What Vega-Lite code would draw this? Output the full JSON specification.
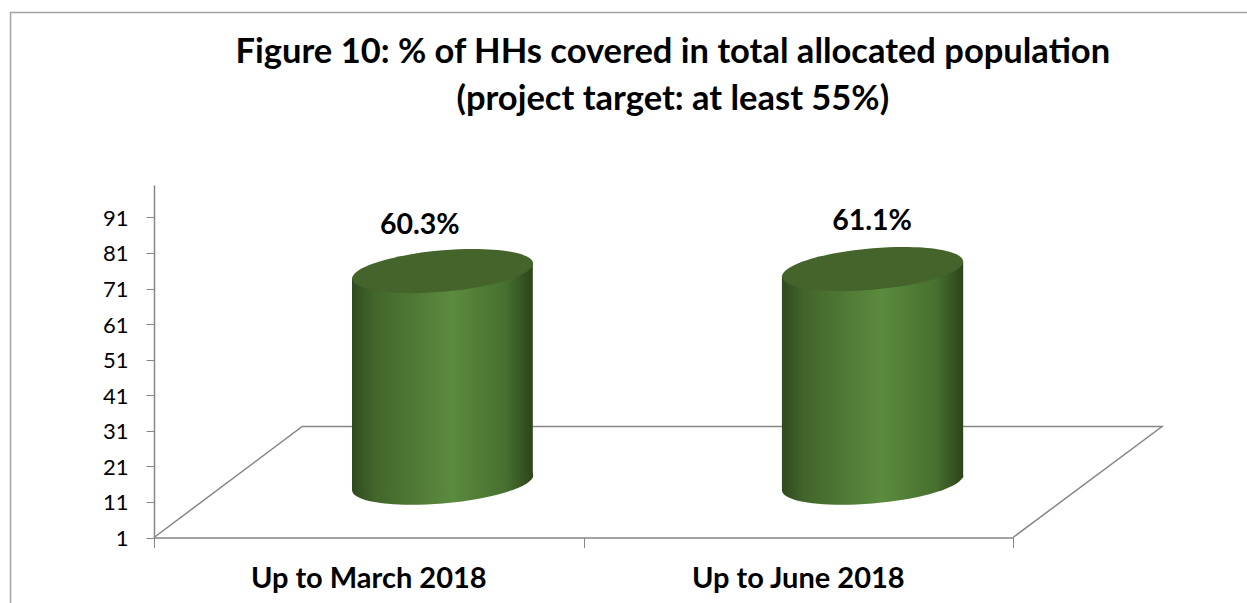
{
"$schema":"https://vega.github.io/schema/vega-lite/v6.json",
"autosize":{"type":"none"},
"padding":{"left":154,"top":185,"right":234,"bottom":65.5},
"width":859,"height":352.5,
"background":"white",
"config":{"view":{"stroke":null},"font":"Lato"},
"datasets":{
"frame":[{"x":-0.334,"y":-17.4,"o":1},{"x":-0.334,"y":148.6,"o":2},{"x":2.545,"y":148.6,"o":3}],
"floor":[{"x":0,"y":1,"o":1},{"x":0.345,"y":32.2,"o":2},{"x":2.347,"y":32.2,"o":3},{"x":2,"y":1,"o":4}],
"sides":[
{"name":"Up to March 2018","x":0.461,"top":74.0,"base":14.1},
{"name":"Up to March 2018","x":0.882,"top":78.2,"base":17.7},
{"name":"Up to June 2018","x":1.462,"top":74.6,"base":14.1},
{"name":"Up to June 2018","x":1.884,"top":78.8,"base":17.7}],
"caps":[
{"name":"Up to March 2018","x":0.672,"top":75.9,"base":16.4},
{"name":"Up to June 2018","x":1.673,"top":76.5,"base":16.4}],
"values":[
{"label":"60.3%","x":0.619,"y":88.9},
{"label":"61.1%","x":1.672,"y":90.0}],
"cats":[
{"name":"Up to March 2018","x":0.5,"y":-10.7},
{"name":"Up to June 2018","x":1.5,"y":-10.7}],
"titles":[
{"text":"Figure 10: % of HHs covered in total allocated population","x":1.208,"y":137.2},
{"text":"(project target: at least 55%)","x":1.208,"y":124.0}]
},
"layer":[
{"data":{"name":"frame"},"mark":{"type":"line","stroke":"#a3a3a3","strokeWidth":1.5,"clip":false},
"encoding":{"x":{"field":"x","type":"quantitative","scale":{"domain":[0,2],"nice":false,"zero":false},
"axis":{"values":[0,1,2],"title":null,"labels":false,"grid":false,"tickSize":10,"tickColor":"#868686","domainColor":"#868686","domainWidth":1.5,"tickWidth":1}},
"y":{"field":"y","type":"quantitative","scale":{"domain":[1,100.1],"nice":false,"zero":false},
"axis":{"values":[1,11,21,31,41,51,61,71,81,91],"tickCount":20,"title":null,"grid":false,"tickSize":8,"tickColor":"#868686","domainColor":"#868686","domainWidth":1.5,"tickWidth":1,"labelPadding":18,"labelFont":"Lato","labelFontSize":22,"labelColor":"#000000","labelOverlap":false,"labelBound":false,"labelOffset":1}},
"order":{"field":"o"}}},
{"data":{"name":"floor"},"mark":{"type":"line","stroke":"#868686","strokeWidth":1.5},
"encoding":{"x":{"field":"x","type":"quantitative"},"y":{"field":"y","type":"quantitative"},"order":{"field":"o"}}},
{"data":{"name":"caps"},"mark":{"type":"point","filled":true,"opacity":1,"size":32761,"shape":"M1,-0.083C1,0.0435,0.5523,0.183,0,0.229C-0.5523,0.2748,-1,0.2095,-1,0.083C-1,-0.0435,-0.5523,-0.183,0,-0.229C0.5523,-0.2748,1,-0.2095,1,-0.083Z",
"fill":{"gradient":"linear","x1":0,"y1":0,"x2":1,"y2":0,"stops":[{"offset":0,"color":"#2f4a1f"},{"offset":0.12,"color":"#42652b"},{"offset":0.55,"color":"#5b8b3e"},{"offset":0.85,"color":"#46702f"},{"offset":1,"color":"#2c431b"}]}},
"encoding":{"x":{"field":"x","type":"quantitative"},"y":{"field":"base","type":"quantitative"}}},
{"data":{"name":"sides"},"mark":{"type":"area","opacity":1,
"fill":{"gradient":"linear","x1":0,"y1":0,"x2":1,"y2":0,"stops":[{"offset":0,"color":"#2f4a1f"},{"offset":0.12,"color":"#42652b"},{"offset":0.55,"color":"#5b8b3e"},{"offset":0.85,"color":"#46702f"},{"offset":1,"color":"#2c431b"}]}},
"encoding":{"x":{"field":"x","type":"quantitative"},"y":{"field":"top","type":"quantitative"},"y2":{"field":"base"},"detail":{"field":"name"}}},
{"data":{"name":"caps"},"mark":{"type":"point","filled":true,"opacity":1,"size":32761,"fill":"#45642b","shape":"M1,-0.083C1,0.0435,0.5523,0.183,0,0.229C-0.5523,0.2748,-1,0.2095,-1,0.083C-1,-0.0435,-0.5523,-0.183,0,-0.229C0.5523,-0.2748,1,-0.2095,1,-0.083Z"},
"encoding":{"x":{"field":"x","type":"quantitative"},"y":{"field":"top","type":"quantitative"}}},
{"data":{"name":"values"},"mark":{"type":"text","font":"Lato","fontSize":28.5,"fontWeight":"bold","color":"#000000"},
"encoding":{"x":{"field":"x","type":"quantitative"},"y":{"field":"y","type":"quantitative"},"text":{"field":"label"}}},
{"data":{"name":"cats"},"mark":{"type":"text","font":"Lato","fontSize":29,"fontWeight":"bold","color":"#000000"},
"encoding":{"x":{"field":"x","type":"quantitative"},"y":{"field":"y","type":"quantitative"},"text":{"field":"name"}}},
{"data":{"name":"titles"},"mark":{"type":"text","font":"Lato","fontSize":34.5,"fontWeight":"bold","color":"#000000"},
"encoding":{"x":{"field":"x","type":"quantitative"},"y":{"field":"y","type":"quantitative"},"text":{"field":"text"}}}
]
}
